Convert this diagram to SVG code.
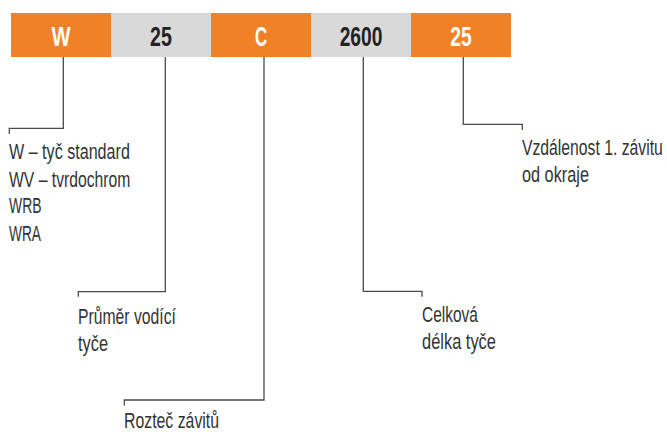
<svg xmlns="http://www.w3.org/2000/svg" width="667" height="432" viewBox="0 0 667 432">
<style>
.seg-o{fill:#F08127}
.seg-g{fill:#D9D9D9}
.bt{font-family:"Liberation Sans",Arial,sans-serif;font-weight:bold;font-size:28px;text-anchor:middle}
.bt-w{fill:#FFFFFF}
.bt-d{fill:#222222}
.lbl{font-family:"Liberation Sans",Arial,sans-serif;font-size:22px;fill:#333333}
.conn{fill:none;stroke:#4a4a4a;stroke-width:1.3}
</style>
<rect width="667" height="432" fill="#FFFFFF"/>
<g id="code-bar">
<g id="seg-W"><rect class="seg-o" x="11" y="13" width="100" height="44"/><text class="bt bt-w" transform="translate(61 46) scale(0.72 1)">W</text></g>
<g id="seg-25a"><rect class="seg-g" x="111" y="13" width="100" height="44"/><text class="bt bt-d" transform="translate(161 46) scale(0.7 1)">25</text></g>
<g id="seg-C"><rect class="seg-o" x="211" y="13" width="100" height="44"/><text class="bt bt-w" transform="translate(261 46) scale(0.6 1)">C</text></g>
<g id="seg-2600"><rect class="seg-g" x="311" y="13" width="100" height="44"/><text class="bt bt-d" transform="translate(361 46) scale(0.686 1)">2600</text></g>
<g id="seg-25b"><rect class="seg-o" x="411" y="13" width="100" height="44"/><text class="bt bt-w" transform="translate(461 46) scale(0.69 1)">25</text></g>
</g>
<g id="connectors">
<path class="conn" d="M63.3 57 V128.3 H9.3 V134"/>
<path class="conn" d="M165.3 57 V291.7 H78.3 V296.7"/>
<path class="conn" d="M264 57 V400 H124.3 V405.5"/>
<path class="conn" d="M363.3 57 V291.3 H422 V296.7"/>
<path class="conn" d="M463.3 57 V124.3 H522.3 V130"/>
</g>
<g id="label-type">
<text class="lbl" transform="translate(9 159) scale(0.733 1)">W – tyč standard</text>
<text class="lbl" transform="translate(9 186.7) scale(0.715 1)">WV – tvrdochrom</text>
<text class="lbl" transform="translate(9 213.3) scale(0.633 1)">WRB</text>
<text class="lbl" transform="translate(9 241) scale(0.624 1)">WRA</text>
</g>
<g id="label-diameter">
<text class="lbl" transform="translate(78 324) scale(0.716 1)">Průměr vodící</text>
<text class="lbl" transform="translate(78 351) scale(0.744 1)">tyče</text>
</g>
<g id="label-pitch">
<text class="lbl" transform="translate(124 427.5) scale(0.72 1)">Rozteč závitů</text>
</g>
<g id="label-length">
<text class="lbl" transform="translate(422 322) scale(0.705 1)">Celková</text>
<text class="lbl" transform="translate(422 349) scale(0.747 1)">délka tyče</text>
</g>
<g id="label-distance">
<text class="lbl" transform="translate(522 155) scale(0.716 1)">Vzdálenost 1. závitu</text>
<text class="lbl" transform="translate(522 182) scale(0.74 1)">od okraje</text>
</g>
</svg>
